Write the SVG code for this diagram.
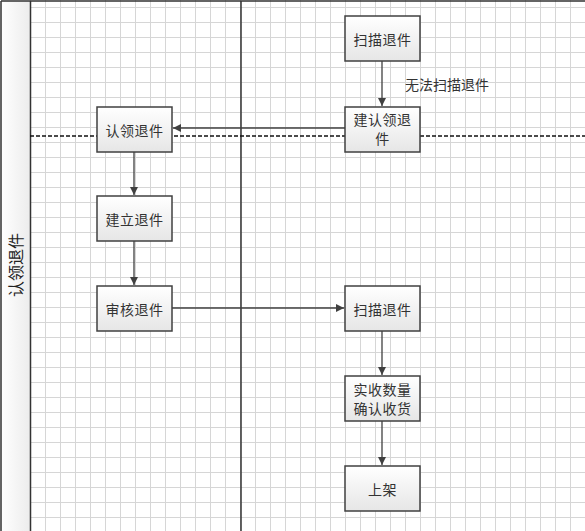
<svg xmlns="http://www.w3.org/2000/svg" width="585" height="531" viewBox="0 0 585 531">
<style>
.node rect{fill:url(#ng);stroke:#404040;stroke-width:1.5}
.node text{font-family:"Noto Sans CJK SC","Liberation Sans",sans-serif;font-size:14px;fill:#333;text-anchor:middle;dominant-baseline:central;letter-spacing:0.5px}
.conn path{fill:none;stroke:#404040;stroke-width:1.3}
.arr{marker-end:url(#ah)}
.lbl{font-family:"Noto Sans CJK SC","Liberation Sans",sans-serif;font-size:14px;fill:#333;text-anchor:middle;dominant-baseline:central}
</style>
<defs>
<pattern id="grid" patternUnits="userSpaceOnUse" x="0" y="7" width="15" height="15">
<rect x="0" y="0" width="15" height="1" fill="#d6d6d6"/>
<rect x="0" y="0" width="1" height="15" fill="#d6d6d6"/>
</pattern>
<linearGradient id="ng" x1="0" y1="0" x2="0" y2="1">
<stop offset="0" stop-color="#ffffff"/>
<stop offset="1" stop-color="#e6e6e6"/>
</linearGradient>
<linearGradient id="sg" x1="0" y1="0" x2="1" y2="0">
<stop offset="0" stop-color="#ffffff"/>
<stop offset="1" stop-color="#ececec"/>
</linearGradient>
<marker id="ah" markerWidth="9" markerHeight="8" refX="8" refY="4" orient="auto" markerUnits="userSpaceOnUse">
<path d="M0,0 L8,4 L0,8 Z" fill="#404040"/>
</marker>
</defs>
<rect x="0" y="0" width="585" height="531" fill="#fff"/>
<rect x="30" y="0" width="555" height="531" fill="url(#grid)"/>
<g id="pool">
<rect x="1" y="1" width="29" height="530" fill="url(#sg)"/>
<path d="M1,1 H585 M1,1 V531 M30.5,1 V531 M241,1 V531" stroke="#333" stroke-width="1.5" fill="none"/>
<path d="M30,136 H585" stroke="#111" stroke-width="1.3" stroke-dasharray="4,2" fill="none"/>
<text x="15" y="265" transform="rotate(-90 15 265)" font-family="'Noto Sans CJK SC','Liberation Sans',sans-serif" font-size="16" fill="#222" text-anchor="middle" dominant-baseline="central">认领退件</text>
</g>
<g class="conn" id="connectors">
<path class="arr" d="M382,61 V106"/>
<path class="arr" d="M345,128 H173"/>
<path class="arr" d="M134,152 V195"/>
<path class="arr" d="M134,241 V285"/>
<path class="arr" d="M172,308 H344"/>
<path class="arr" d="M382,331 V375"/>
<path class="arr" d="M382,421 V465"/>
<text class="lbl" x="447" y="84">无法扫描退件</text>
</g>
<g class="node" id="n_scan1"><rect x="345" y="16" width="75" height="45"/><text x="382.5" y="38.5">扫描退件</text></g>
<g class="node" id="n_build_claim"><rect x="345" y="107" width="75" height="45"/><text x="382.5" y="119">建认领退</text><text x="382.5" y="138">件</text></g>
<g class="node" id="n_claim"><rect x="97" y="107" width="75" height="45"/><text x="134.5" y="129.5">认领退件</text></g>
<g class="node" id="n_create"><rect x="97" y="196" width="75" height="45"/><text x="134.5" y="218.5">建立退件</text></g>
<g class="node" id="n_review"><rect x="97" y="286" width="75" height="45"/><text x="134.5" y="308.5">审核退件</text></g>
<g class="node" id="n_scan2"><rect x="345" y="286" width="75" height="45"/><text x="382.5" y="308.5">扫描退件</text></g>
<g class="node" id="n_receive"><rect x="345" y="376" width="75" height="45"/><text x="382.5" y="389">实收数量</text><text x="382.5" y="408">确认收货</text></g>
<g class="node" id="n_shelf"><rect x="345" y="466" width="75" height="45"/><text x="382.5" y="488.5">上架</text></g>
</svg>
